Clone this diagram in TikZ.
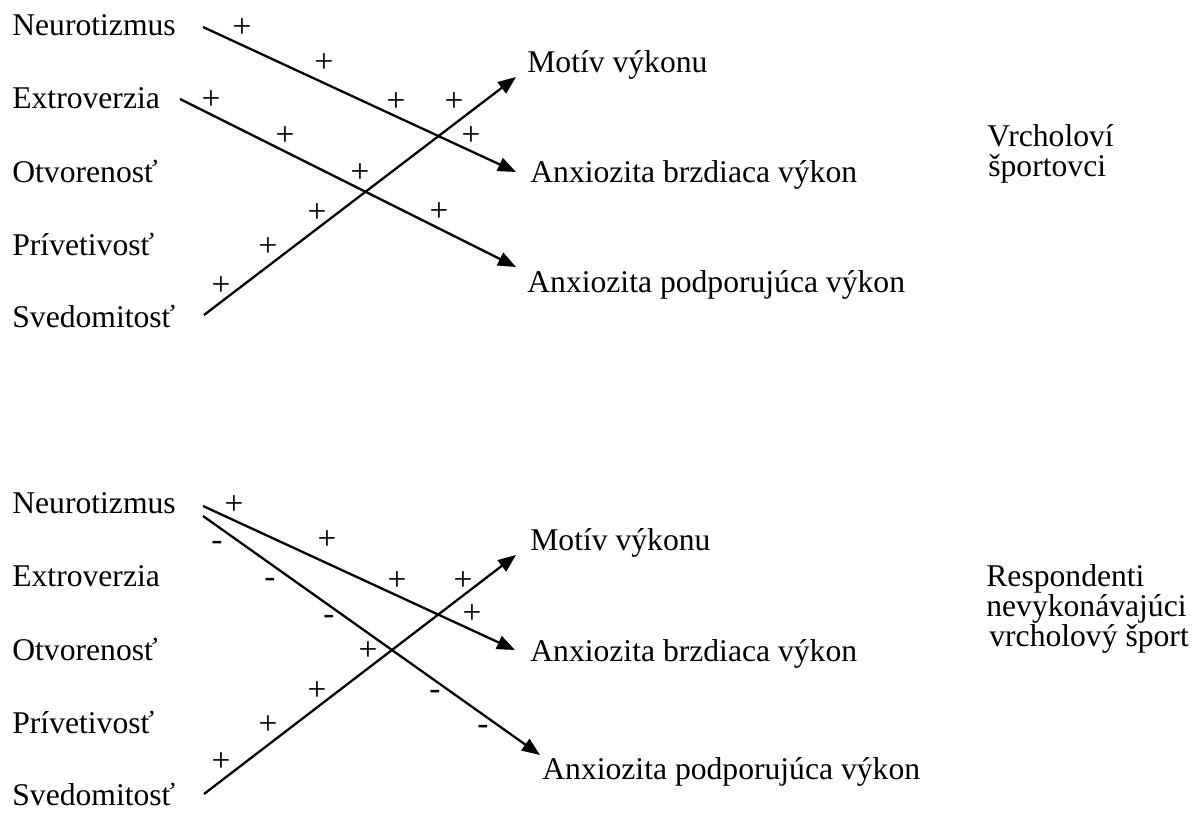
\documentclass[tikz,border=0pt]{standalone}
\usepackage{fontspec}
\setmainfont{Liberation Serif}
\usepackage{tikz}
\usetikzlibrary{arrows.meta}
\tikzset{
    relarrow/.style={-{Triangle[length=3.6mm,width=2.8mm]}, line width=1.3pt},
    lbl/.style={anchor=base west, inner sep=0pt, font=\fontsize{18}{21}\selectfont},
    sgn/.style={inner sep=0pt, font=\fontsize{19}{21}\selectfont}
}
\begin{document}
\begin{tikzpicture}
    \useasboundingbox (0,0) rectangle (23.84,16.28);

    % top: Vrcholovi sportovci
    \node[lbl] (neuroA) at (0.24,15.56) {Neurotizmus};
    \node[lbl] (extraA) at (0.24,14.10) {Extroverzia};
    \node[lbl] (otvorA) at (0.24,12.62) {Otvorenosť};
    \node[lbl] (privA) at (0.24,11.16) {Prívetivosť};
    \node[lbl] (svedA) at (0.24,9.72) {Svedomitosť};

    \node[lbl] (motivA) at (10.54,14.82) {Motív výkonu};
    \node[lbl] (brzdA) at (10.60,12.62) {Anxiozita brzdiaca výkon};
    \node[lbl] (podpA) at (10.54,10.42) {Anxiozita podporujúca výkon};

    \node[lbl] (grpA1) at (19.74,13.34) {Vrcholoví};
    \node[lbl] (grpA2) at (19.76,12.74) {športovci};

    \coordinate (nA) at (4.06,15.74);
    \coordinate (eA) at (3.60,14.30);
    \coordinate (sA) at (4.08,9.98);
    \coordinate (motivAin) at (10.32,14.74);
    \coordinate (brzdAin) at (10.32,12.84);
    \coordinate (podpAin) at (10.32,10.94);

    \path [relarrow](nA) edge (brzdAin);
    \path [relarrow](eA) edge (podpAin);
    \path [relarrow](sA) edge (motivAin);

    \node[sgn] (pA1) at (4.84,15.72) {+};
    \node[sgn] (pA2) at (6.48,15.02) {+};
    \node[sgn] (pA3) at (7.92,14.24) {+};
    \node[sgn] (pA4) at (9.08,14.24) {+};
    \node[sgn] (pA5) at (9.42,13.56) {+};
    \node[sgn] (pA6) at (4.22,14.28) {+};
    \node[sgn] (pA7) at (5.70,13.56) {+};
    \node[sgn] (pA8) at (7.20,12.82) {+};
    \node[sgn] (pA9) at (8.78,12.04) {+};
    \node[sgn] (pA10) at (6.34,12.02) {+};
    \node[sgn] (pA11) at (5.36,11.34) {+};
    \node[sgn] (pA12) at (4.42,10.56) {+};

    % bottom: Respondenti nevykonavajuci vrcholovy sport
    \node[lbl] (neuroB) at (0.24,6.00) {Neurotizmus};
    \node[lbl] (extraB) at (0.24,4.54) {Extroverzia};
    \node[lbl] (otvorB) at (0.24,3.06) {Otvorenosť};
    \node[lbl] (privB) at (0.24,1.60) {Prívetivosť};
    \node[lbl] (svedB) at (0.24,0.16) {Svedomitosť};

    \node[lbl] (motivB) at (10.60,5.26) {Motív výkonu};
    \node[lbl] (brzdB) at (10.60,3.04) {Anxiozita brzdiaca výkon};
    \node[lbl] (podpB) at (10.84,0.68) {Anxiozita podporujúca výkon};

    \node[lbl] (grpB1) at (19.72,4.54) {Respondenti};
    \node[lbl] (grpB2) at (19.72,3.94) {nevykonávajúci};
    \node[lbl] (grpB3) at (19.78,3.34) {vrcholový šport};

    \coordinate (nB1) at (4.06,6.16);
    \coordinate (nB2) at (4.06,5.96);
    \coordinate (sB) at (4.08,0.40);
    \coordinate (motivBin) at (10.32,5.18);
    \coordinate (brzdBin) at (10.30,3.28);
    \coordinate (podpBin) at (10.80,1.18);

    \path [relarrow](nB1) edge (brzdBin);
    \path [relarrow](nB2) edge (podpBin);
    \path [relarrow](sB) edge (motivBin);

    \node[sgn] (pB1) at (4.68,6.18) {+};
    \node[sgn] (pB2) at (6.54,5.48) {+};
    \node[sgn] (pB3) at (7.94,4.66) {+};
    \node[sgn] (pB4) at (9.26,4.66) {+};
    \node[sgn] (pB5) at (9.44,4.00) {+};
    \node[sgn] (pB6) at (7.36,3.26) {+};
    \node[sgn] (pB7) at (6.34,2.46) {+};
    \node[sgn] (pB8) at (5.36,1.78) {+};
    \node[sgn] (pB9) at (4.42,1.04) {+};

    \node[sgn] (mB1) at (4.34,5.36) {-};
    \node[sgn] (mB2) at (5.40,4.62) {-};
    \node[sgn] (mB3) at (6.58,3.88) {-};
    \node[sgn] (mB4) at (8.70,2.38) {-};
    \node[sgn] (mB5) at (9.66,1.68) {-};

\end{tikzpicture}
\end{document}
